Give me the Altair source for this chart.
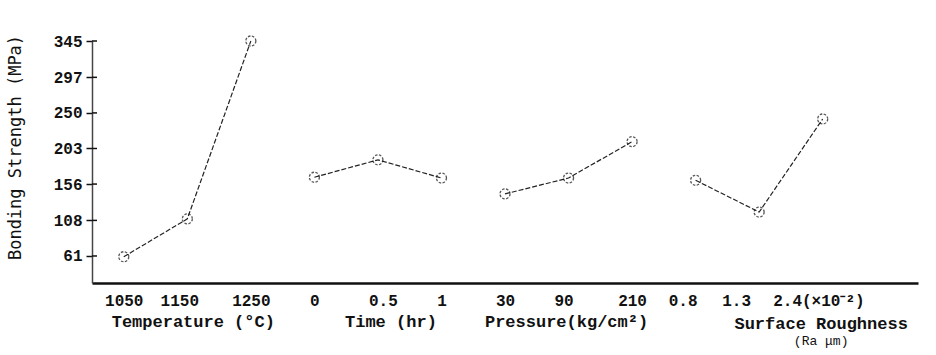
import altair as alt
import pandas as pd

# ---- data ----
tick_labels = ["1050", "1150", "1250", "0", "0.5", "1", "30", "90", "210", "0.8", "1.3", "2.4"]
point_group = ["Temperature", "Temperature", "Temperature",
               "Time", "Time", "Time",
               "Pressure", "Pressure", "Pressure",
               "Roughness", "Roughness", "Roughness"]
strength = [60, 110, 345, 165, 188, 164, 143, 164, 212, 161, 119, 242]
y_ticks = [61, 108, 156, 203, 250, 297, 345]
groups = ["Temperature", "Time", "Pressure", "Roughness"]
group_titles = ["Temperature (°C)", "Time (hr)", "Pressure(kg/cm²)", "Surface Roughness"]
unit_suffix = "(×10⁻²)"
roughness_subtitle = "(Ra μm)"
y_title = "Bonding Strength (MPa)"

df = pd.DataFrame({"idx": list(range(len(tick_labels))),
                   "group": point_group,
                   "strength": strength})
df_ticks = pd.DataFrame({"v": y_ticks})

centers = [sum(i for i, g in enumerate(point_group) if g == grp) /
           sum(1 for g in point_group if g == grp) for grp in groups]

x_scale = alt.Scale(domain=[-0.5, 12.5], nice=False, zero=False)
y_scale = alt.Scale(domain=[25.3, 345], nice=False, zero=False)

labels_full = tick_labels[:-1] + [tick_labels[-1] + unit_suffix]
label_expr = "[" + ",".join("'" + t + "'" for t in labels_full) + "][datum.value]"

x_axis = alt.Axis(
    values=list(range(len(tick_labels))),
    labelExpr=label_expr,
    title=None,
    grid=False,
    ticks=False,
    domainColor="#111",
    domainWidth=2.5,
    labelFont="Liberation Mono",
    labelFontSize=16,
    labelFontWeight="bold",
    labelColor="#111",
    labelPadding=9,
    labelOverlap=False,
    labelFlush=False,
    labelAlign={"condition": {"test": "datum.value == 11", "value": "left"}, "value": "center"},
    labelOffset={"condition": [
        {"test": "datum.value == 1", "value": -8},
        {"test": "datum.value == 4", "value": 5},
        {"test": "datum.value == 7", "value": -5},
        {"test": "datum.value == 9", "value": -13},
        {"test": "datum.value == 10", "value": -23},
        {"test": "datum.value == 11", "value": -50},
    ], "value": 0},
)

y_axis = alt.Axis(
    values=y_ticks,
    title=y_title,
    titleFont="DejaVu Sans Mono",
    titleFontSize=17,
    titleFontWeight="normal",
    titleColor="#111",
    titleAngle=270,
    titleAlign="center",
    titleBaseline="middle",
    titleX=-77,
    titleY=106,
    grid=False,
    tickSize=6,
    tickColor="#111",
    tickWidth=1.5,
    domainColor="#444",
    domainWidth=1.5,
    labelFont="Liberation Mono",
    labelFontSize=16,
    labelFontWeight="bold",
    labelColor="#111",
    labelPadding=4,
)

base = alt.Chart(df)

lines = base.mark_line(color="#222", strokeWidth=1.2, strokeDash=[5, 2]).encode(
    x=alt.X("idx:Q", scale=x_scale, axis=x_axis),
    y=alt.Y("strength:Q", scale=y_scale, axis=y_axis),
    detail="group:N",
)

points = base.mark_point(shape="circle", filled=False, size=100, color="#111",
                         strokeWidth=1.3, strokeDash=[2.5, 1.5]).encode(
    x=alt.X("idx:Q", scale=x_scale),
    y=alt.Y("strength:Q", scale=y_scale),
)

inner_ticks = alt.Chart(df_ticks).mark_rule(color="#111", strokeWidth=1.5).encode(
    y=alt.Y("v:Q", scale=y_scale),
    x=alt.value(0),
    x2=alt.value(5),
)

title_dx = [6, 13, -2, 62]
title_layers = []
for grp, ttl, c, dx in zip(groups, group_titles, centers, title_dx):
    tdf = pd.DataFrame({"center": [c], "label": [ttl]})
    ypos = 283 if grp == "Roughness" else 281
    title_layers.append(
        alt.Chart(tdf).mark_text(font="Liberation Mono", fontSize=17, fontWeight="bold",
                                 color="#111", align="center", baseline="middle", dx=dx).encode(
            x=alt.X("center:Q", scale=x_scale),
            y=alt.value(ypos),
            text="label:N",
        )
    )
    if grp == "Roughness":
        sdf = pd.DataFrame({"center": [c], "label": [roughness_subtitle]})
        title_layers.append(
            alt.Chart(sdf).mark_text(font="Liberation Mono", fontSize=13, color="#111",
                                     align="center", baseline="middle", dx=dx).encode(
                x=alt.X("center:Q", scale=x_scale),
                y=alt.value(300),
                text="label:N",
            )
        )

chart = alt.layer(lines, points, inner_ticks, *title_layers).properties(
    width=826,
    height=242,
    autosize=alt.AutoSizeParams(type="none"),
    padding={"left": 92, "top": 41, "right": 18, "bottom": 72},
    background="white",
).configure_view(stroke=None)

chart.save("out.html", embed_options={"renderer": "svg", "actions": False})
